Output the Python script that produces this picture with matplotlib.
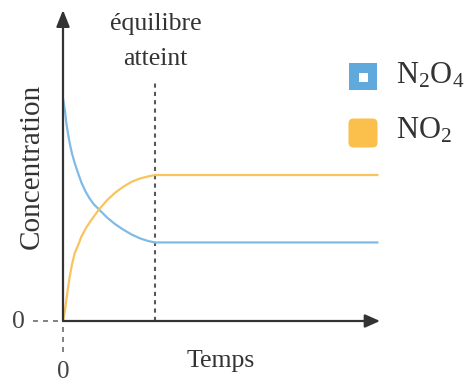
import matplotlib
matplotlib.use("Agg")
import matplotlib.pyplot as plt
from matplotlib.patches import Rectangle, FancyBboxPatch

plt.rcParams["font.family"] = ["Liberation Serif", "DejaVu Serif"]
plt.rcParams["mathtext.fontset"] = "custom"
plt.rcParams["mathtext.rm"] = "Liberation Serif"
plt.rcParams["mathtext.it"] = "Liberation Serif:italic"
plt.rcParams["lines.scale_dashes"] = False

# Concentration curves (arbitrary units) against time (arbitrary units)
time_n2o4 = [0.0, 0.065, 0.108, 0.163, 0.218, 0.293, 0.381, 0.489, 0.597, 0.734,
             0.871, 1.011, 1.174, 1.435, 1.696, 1.956, 2.240, 2.511, 2.772, 3.0, 10.25]
conc_n2o4 = [1.525, 1.438, 1.356, 1.284, 1.219, 1.147, 1.082, 1.014, 0.950, 0.887,
             0.838, 0.798, 0.764, 0.709, 0.664, 0.627, 0.592, 0.566, 0.548, 0.538, 0.538]

time_no2 = [0.0, 0.065, 0.108, 0.163, 0.218, 0.293, 0.381, 0.489, 0.597, 0.750,
            0.923, 1.174, 1.435, 1.696, 1.956, 2.240, 2.511, 2.772, 3.0, 10.25]
conc_no2 = [0.0, 0.072, 0.144, 0.226, 0.303, 0.387, 0.464, 0.517, 0.577, 0.637,
            0.692, 0.764, 0.827, 0.878, 0.918, 0.954, 0.976, 0.990, 1.0, 1.0]

t_equilibrium = 3.0
labels = ["N$_2$O$_4$", "NO$_2$"]
colors = ["#5fa9dd", "#fbbf4c"]
line_colors = ["#7fbbe6", "#f9c45e"]

W, H = 472, 383
fig = plt.figure(figsize=(W / 100, H / 100), dpi=100)

# axes box in pixels: origin at (63, 321), top at y=10, right at x=380
x0, y0, x1, y1 = 63, 321, 380, 10
ax = fig.add_axes([x0 / W, 1 - y0 / H, (x1 - x0) / W, (y0 - y1) / H])
px_per_t = 92 / 3.0
px_per_c = 146.0
ax.set_xlim(0, (x1 - x0) / px_per_t)
ax.set_ylim(0, (y0 - y1) / px_per_c)
ax.axis("off")

ax.plot(time_n2o4, conc_n2o4, color=line_colors[0], lw=1.6, solid_joinstyle="round", zorder=3)
ax.plot(time_no2, conc_no2, color=line_colors[1], lw=1.6, solid_joinstyle="round", zorder=3)

# equilibrium marker
ax.plot([t_equilibrium, t_equilibrium], [0, (y0 - 80) / px_per_c], color="#585858",
        lw=1.5, dashes=(3.0, 3.0), zorder=2, clip_on=False)

# dotted guides to the zero labels
ax.plot([-(63 - 33) / px_per_t, -3 / px_per_t], [0, 0], color="#777777", lw=1.3,
        dashes=(3.6, 3.6), clip_on=False)
ax.plot([0, 0], [-6 / px_per_c, -36 / px_per_c], color="#777777", lw=1.3,
        dashes=(3.6, 3.6), clip_on=False)

# axes with arrowheads
axis_col = "#333333"
ax.annotate("", xy=(1.0, 0), xytext=(0, 0), xycoords="axes fraction",
            arrowprops=dict(arrowstyle="-|>,head_length=0.9,head_width=0.4",
                            color=axis_col, lw=1.6, shrinkA=0, shrinkB=0,
                            mutation_scale=10), annotation_clip=False)
ax.annotate("", xy=(0, 1.0), xytext=(0, 0), xycoords="axes fraction",
            arrowprops=dict(arrowstyle="-|>,head_length=1.0,head_width=0.4",
                            color=axis_col, lw=1.6, shrinkA=0, shrinkB=0,
                            mutation_scale=10), annotation_clip=False)


def fpos(px, py):
    return px / W, 1 - py / H


txt_col = "#333333"
fig.text(*fpos(156, 30), "équilibre", ha="center", va="baseline", fontsize=18.5, color=txt_col)
fig.text(*fpos(155, 65), "atteint", ha="center", va="baseline", fontsize=18.5, color=txt_col)
fig.text(*fpos(221, 367), "Temps", ha="center", va="baseline", fontsize=18.5, color=txt_col)
fig.text(*fpos(32, 166), "Concentration", ha="center", va="center", rotation=90,
         fontsize=21, color=txt_col)
fig.text(*fpos(18, 328), "0", ha="center", va="baseline", fontsize=18.5, color="#444444")
fig.text(*fpos(63, 378), "0", ha="center", va="baseline", fontsize=18, color="#444444")

# legend keys
bx, by = fpos(349, 90)
fig.patches.append(Rectangle((bx, by), 28 / W, 27 / H, transform=fig.transFigure,
                             facecolor=colors[0], edgecolor="none"))
wx, wy = fpos(359, 82)
fig.patches.append(Rectangle((wx, wy), 9 / W, 9 / H, transform=fig.transFigure,
                             facecolor="white", edgecolor="none"))
ox, oy = fpos(352, 144)
fig.patches.append(FancyBboxPatch((ox, oy), 22 / W, 22 / H,
                                  boxstyle="round,pad=%f,rounding_size=%f" % (3.5 / W, 5 / W),
                                  transform=fig.transFigure, facecolor=colors[1],
                                  edgecolor="none", mutation_aspect=W / H))
fig.text(*fpos(396, 84), labels[0], ha="left", va="baseline", fontsize=22, color=txt_col)
fig.text(*fpos(396, 139), labels[1], ha="left", va="baseline", fontsize=22, color=txt_col)

fig.savefig("out.png", dpi=100)
